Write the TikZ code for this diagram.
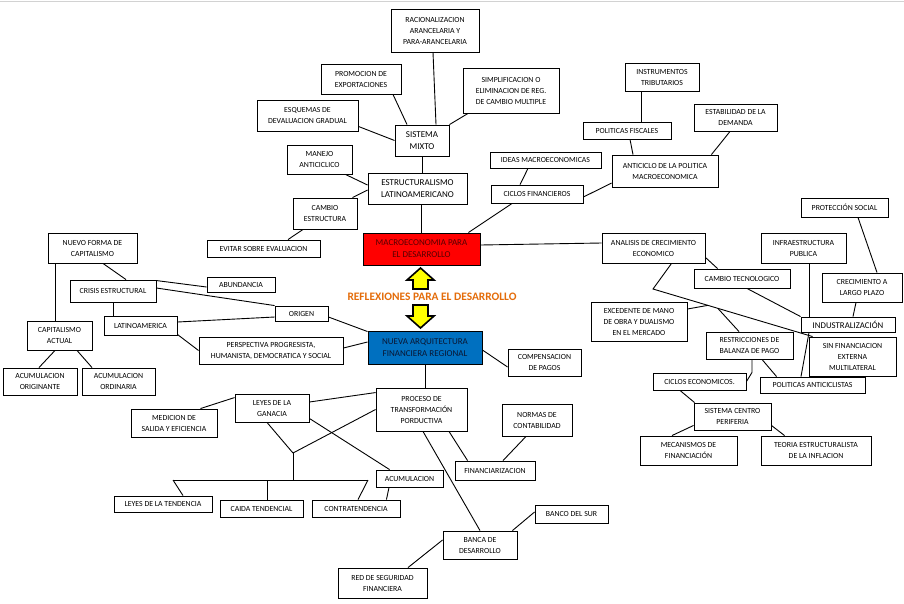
\documentclass[tikz,border=0pt]{standalone}
\usepackage{fontspec}
\setmainfont{Carlito}
\usetikzlibrary{calc,backgrounds}
\pgfdeclarelayer{canvas}
\pgfsetlayers{canvas,background,main}
\definecolor{macrored}{RGB}{255,0,0}
\definecolor{macrotext}{RGB}{85,0,0}
\definecolor{nafrblue}{RGB}{0,112,192}
\definecolor{nafrtext}{RGB}{10,22,50}
\definecolor{titleorange}{RGB}{228,108,10}
\definecolor{arrowyellow}{RGB}{255,255,0}
\definecolor{topgray}{RGB}{210,210,210}
\tikzset{
  box/.style={draw, line width=0.9pt, fill=white, align=center, inner sep=0pt,
    font=\fontsize{7.8}{11}\selectfont},
  bigbox/.style={font=\fontsize{9}{12}\selectfont},
  con/.style={line width=0.9pt},
  blockarrow/.style={draw, line width=1.6pt, fill=arrowyellow, line join=miter}
}
\newcommand\bx[7][]{\node[box,#1,minimum width={(#5-#3)*1pt},minimum height={(#6-#4)*1pt}] (#2) at ({(#3+#5)/2},{(#4+#6)/2}) {#7};}
\begin{document}
\begin{tikzpicture}[x=1pt,y=-1pt]
\useasboundingbox (0,0) rectangle (904,603);
\begin{pgfonlayer}{canvas}
\fill[white] (0,0) rectangle (904,603);
\draw[topgray, line width=1.5pt] (0,1.5) -- (904,1.5);
\end{pgfonlayer}

% ---- top cluster
\bx{rac}{391}{9}{479}{52}{RACIONALIZACION\\ARANCELARIA Y\\PARA-ARANCELARIA}
\bx{prom}{321}{64}{401}{94}{PROMOCION DE\\EXPORTACIONES}
\bx{simp}{463}{68}{559}{113}{SIMPLIFICACION O\\ELIMINACION DE REG.\\DE CAMBIO MULTIPLE}
\bx{esq}{257}{100}{358}{131}{ESQUEMAS DE\\DEVALUACION GRADUAL}
\bx[bigbox]{sm}{395}{125}{449}{156}{SISTEMA\\MIXTO}
\bx{man}{287}{145}{352}{174}{MANEJO\\ANTICICLICO}
\bx[bigbox]{est}{368}{173}{467}{204}{ESTRUCTURALISMO\\LATINOAMERICANO}
\bx{cam}{293}{198}{357}{229}{CAMBIO\\ESTRUCTURA}
\bx{evi}{207}{240}{320}{257}{EVITAR SOBRE EVALUACION}
\bx[bigbox,fill=macrored,text=macrotext]{macro}{363}{233}{480}{265}{MACROECONOMIA PARA\\EL DESARROLLO}
\bx{ideas}{490}{152}{601}{168}{IDEAS MACROECONOMICAS}
\bx{cfin}{491}{185}{583}{203}{CICLOS FINANCIEROS}
\bx{anti}{612}{155}{718}{187}{ANTICICLO DE LA POLITICA\\MACROECONOMICA}
\bx{pfis}{583}{122}{671}{139}{POLITICAS FISCALES}
\bx{inst}{625}{63}{699}{91}{INSTRUMENTOS\\TRIBUTARIOS}
\bx{estab}{694}{104}{777}{131}{ESTABILIDAD DE LA\\DEMANDA}

% ---- right cluster
\bx{prot}{801}{198}{888}{217}{PROTECCIÓN SOCIAL}
\bx{anal}{602}{233}{705}{263}{ANALISIS DE CRECIMIENTO\\ECONOMICO}
\bx{infra}{761}{233}{846}{263}{INFRAESTRUCTURA\\PUBLICA}
\bx{ctec}{694}{269}{790}{288}{CAMBIO TECNOLOGICO}
\bx{creci}{822}{273}{902}{302}{CRECIMIENTO A\\LARGO PLAZO}
\bx{exced}{591}{302}{687}{341}{EXCEDENTE DE MANO\\DE OBRA Y DUALISMO\\EN EL MERCADO}
\bx[font=\fontsize{8.8}{11}\selectfont]{indus}{801}{317}{895}{332}{INDUSTRALIZACIÓN}
\bx{sinf}{809}{337}{896}{376}{SIN FINANCIACION\\EXTERNA\\MULTILATERAL}
\bx{restr}{706}{332}{793}{359}{RESTRICCIONES DE\\BALANZA DE PAGO}
\bx{cecon}{653}{373}{746}{390}{CICLOS ECONOMICOS.}
\bx{panti}{760}{377}{865}{393}{POLITICAS ANTICICLISTAS}
\bx{scp}{694}{403}{771}{430}{SISTEMA CENTRO\\PERIFERIA}
\bx{meca}{640}{436}{737}{465}{MECANISMOS DE\\FINANCIACIÓN}
\bx{teo}{761}{436}{871}{465}{TEORIA ESTRUCTURALISTA\\DE LA INFLACION}

% ---- left cluster
\bx{nuevo}{48}{233}{137}{263}{NUEVO FORMA DE\\CAPITALISMO}
\bx{crisis}{70}{280}{156}{302}{CRISIS ESTRUCTURAL}
\bx{abund}{207}{277}{275}{292}{ABUNDANCIA}
\bx{origen}{275}{306}{328}{321}{ORIGEN}
\bx{latam}{104}{316}{177}{335}{LATINOAMERICA}
\bx{persp}{199}{337}{343}{364}{PERSPECTIVA PROGRESISTA,\\HUMANISTA, DEMOCRATICA Y SOCIAL}
\bx{capact}{27}{321}{92}{350}{CAPITALISMO\\ACTUAL}
\bx{acori}{3}{368}{77}{395}{ACUMULACION\\ORIGINANTE}
\bx{acord}{82}{368}{155}{395}{ACUMULACION\\ORDINARIA}

% ---- center / bottom
\bx[bigbox,fill=nafrblue,text=nafrtext]{nafr}{368}{331}{482}{364}{NUEVA ARQUITECTURA\\FINANCIERA REGIONAL}
\bx{comp}{508}{349}{581}{376}{COMPENSACION\\DE PAGOS}
\bx{proc}{376}{388}{467}{431}{PROCESO DE\\TRANSFORMACIÓN\\PORDUCTIVA}
\bx{leyg}{235}{394}{309}{422}{LEYES DE LA\\GANACIA}
\bx{medi}{131}{409}{217}{437}{MEDICION DE\\SALIDA Y EFICIENCIA}
\bx{leyt}{114}{496}{212}{512}{LEYES DE LA TENDENCIA}
\bx{caida}{220}{500}{303}{517}{CAIDA TENDENCIAL}
\bx{contra}{312}{500}{400}{517}{CONTRATENDENCIA}
\bx{acum}{376}{470}{443}{487}{ACUMULACION}
\bx{normas}{502}{404}{572}{436}{NORMAS DE\\CONTABILIDAD}
\bx{finan}{455}{461}{535}{480}{FINANCIARIZACION}
\bx{bsur}{535}{505}{608}{523}{BANCO DEL SUR}
\bx{banca}{443}{531}{517}{559}{BANCA DE\\DESARROLLO}
\bx{red}{338}{568}{427}{598}{RED DE SEGURIDAD\\FINANCIERA}

% ---- title and block arrows
\node[font=\bfseries\fontsize{11.4}{13}\selectfont, text=titleorange] (title) at (432,297) {REFLEXIONES PARA EL DESARROLLO};
\draw[blockarrow] (420.5,268) -- (434,280) -- (428,280) -- (428,289) -- (413,289) -- (413,280) -- (407,280) -- cycle;
\draw[blockarrow] (413,305) -- (428,305) -- (428,316) -- (434,316) -- (420.5,328) -- (407,316) -- (413,316) -- cycle;

% ---- junction coordinates
\coordinate (v1) at (653,289);
\coordinate (sinfc) at ([xshift=4pt]sinf.north west);
\coordinate (j1) at ($(v1)!0.344!(sinfc)$);
\coordinate (j2) at ($(v1)!0.406!(sinfc)$);
\coordinate (j3) at (293,453);
\coordinate (hl) at (173,480);
\coordinate (hr) at (368,480);

\begin{pgfonlayer}{background}
% top
\draw[con] ([xshift=-2pt]rac.south) -- ([xshift=14pt]sm.north);
\draw[con] ([xshift=32pt]prom.south) -- ([xshift=-15pt]sm.north);
\draw[con] ([xshift=-43pt]simp.south) -- (sm.north east);
\draw[con] ([yshift=5pt]esq.south east) -- (sm.west);
\draw[con] (sm.south) -- (sm.south |- est.north);
\draw[con] ([xshift=-7pt]man.south east) -- ([yshift=3.5pt]est.west);
\draw[con] ([yshift=-1.5pt]est.west) -- ([xshift=-5pt]cam.north east);
\draw[con] ([xshift=-22pt]cam.south) -- ([xshift=24.5pt]evi.north);
\draw[con] (macro.north |- est.south) -- (macro.north);
\draw[con] ([xshift=-12pt]macro.north east) -- ([xshift=-25pt]cfin.south);
\draw[con] ([xshift=-17.5pt]ideas.south) -- ([xshift=-17pt]cfin.north);
\draw[con] ([yshift=-3pt]cfin.east) -- ([yshift=-12pt]anti.west);
\draw[con] ([xshift=-21pt]inst.south) -- ([xshift=-21pt]inst.south |- pfis.north);
\draw[con] ([xshift=3pt]pfis.south) -- ([xshift=-32pt]anti.north);
\draw[con] ([xshift=-5.5pt]estab.south) -- ([xshift=-7pt]anti.north east);
\draw[con] ([yshift=4pt]macro.east) -- ([yshift=5pt]anal.west);
% right
\draw[con] ([yshift=6pt]anal.south east) -- ([xshift=24pt]ctec.north west);
\draw[con] ([xshift=18pt]anal.south) -- (v1) -- (sinfc);
\draw[con] ([yshift=12.5pt]exced.east) -- (j1);
\draw[con] (j2) -- ([xshift=-10.5pt]restr.north);
\draw[con] ([xshift=5pt]ctec.south) -- (indus.north west);
\draw[con] ([xshift=5.5pt]infra.south) -- ([xshift=5.5pt]infra.south |- indus.north);
\draw[con] ([xshift=-6pt]creci.south) -- ([xshift=5pt]indus.north);
\draw[con] ([xshift=13.5pt]prot.south) -- ([xshift=15pt]creci.north);
\draw[con] ([xshift=-39pt]indus.south) -- ([xshift=-11.5pt]panti.north);
\draw[con] ([xshift=2.5pt]restr.south) -- ++(0,13) -- (cecon.east);
\draw[con] ([xshift=12.5pt]restr.south) -- ([xshift=17pt]panti.north west);
\draw[con] ([xshift=-19.5pt]cecon.south) -- ([xshift=1pt]scp.north west);
\draw[con] ([yshift=5pt]scp.south west) -- ([xshift=-16.5pt]meca.north);
\draw[con] ([yshift=5pt]scp.south east) -- ([xshift=24pt]teo.north west);
% left
\draw[con] ([xshift=8pt]nuevo.south west) -- ([xshift=8pt]nuevo.south west |- capact.north);
\draw[con] ([xshift=10.5pt]nuevo.south) -- ([xshift=13pt]crisis.north);
\draw[con] ([yshift=-1pt]crisis.north east) -- ([yshift=-2.5pt]abund.west);
\draw[con] ([yshift=3pt]crisis.east) -- (origen.north west);
\draw[con] (crisis.south) -- (crisis.south |- latam.north);
\draw[con] ([yshift=3.5pt]latam.east) -- ([yshift=-3.5pt]origen.west);
\draw[con] ([yshift=1pt]latam.south east) -- (persp.west);
\draw[con] ([xshift=-4.5pt]capact.south) -- ([xshift=-1pt]acori.north);
\draw[con] ([xshift=17.5pt]capact.south) -- ([xshift=-26.5pt]acord.north);
\draw[con] ([yshift=-3.5pt]origen.east) -- ([yshift=-1pt]nafr.north west);
\draw[con] ([yshift=2.5pt]persp.east) -- ([yshift=5.5pt]nafr.west);
\draw[con] ([yshift=-2.5pt]nafr.east) -- ([yshift=-4.5pt]comp.west);
\draw[con] (nafr.south) -- (nafr.south |- proc.north);
% bottom
\draw[con] ([yshift=-5pt]proc.north west) -- ([yshift=6pt]leyg.east);
\draw[con] ([yshift=-4pt]leyg.north west) -- ([xshift=-17pt]medi.north east);
\draw[con] (proc.west) -- (j3);
\draw[con] ([xshift=-5pt]leyg.south) -- (j3);
\draw[con] (j3) -- (j3 |- hl);
\draw[con] (hl) -- (hr);
\draw[con] (hl) -- ([xshift=20pt]leyt.north);
\draw[con] ([xshift=5.5pt]caida.north |- hl) -- ([xshift=5.5pt]caida.north);
\draw[con] (hr) -- ([xshift=2pt]contra.north);
\draw[con] ([yshift=4pt]leyg.south east) -- ([xshift=14pt]acum.north west);
\draw[con] ([xshift=-20.5pt]acum.south) -- ([xshift=-14pt]contra.north east);
\draw[con] ([xshift=1.5pt]proc.south) -- (banca.north);
\draw[con] ([xshift=27.5pt]proc.south) -- ([xshift=13pt]finan.north west);
\draw[con] ([xshift=-11pt]normas.south) -- ([xshift=8pt]finan.north);
\draw[con] ([xshift=-5pt]banca.north east) -- ([yshift=2pt]bsur.west);
\draw[con] ([yshift=5pt]banca.west) -- ([xshift=25.5pt]red.north);
\end{pgfonlayer}
\end{tikzpicture}
\end{document}
